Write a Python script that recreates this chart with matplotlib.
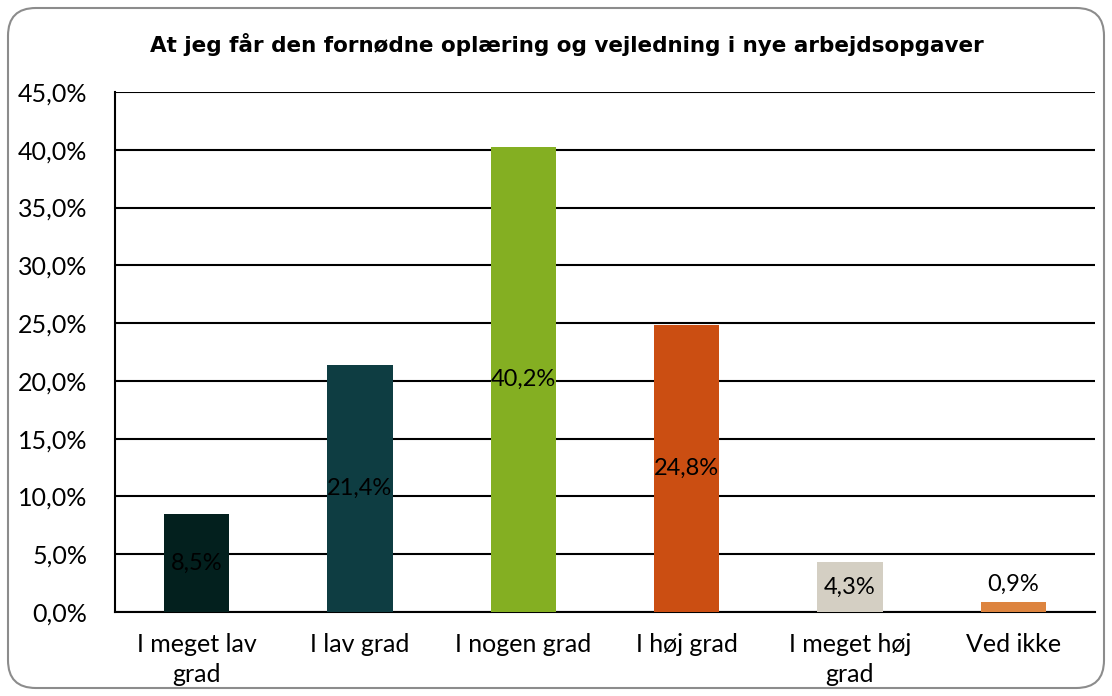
import matplotlib
matplotlib.use("Agg")
import matplotlib.pyplot as plt
from matplotlib.patches import FancyBboxPatch
from matplotlib.ticker import FuncFormatter, MultipleLocator

categories = ["I meget lav\ngrad", "I lav grad", "I nogen grad", "I høj grad", "I meget høj\ngrad", "Ved ikke"]
values = [8.5, 21.4, 40.2, 24.8, 4.3, 0.9]
colors = ["#03201E", "#0E3D42", "#84AF22", "#CB4E12", "#D4CFC3", "#DD843F"]
title = "At jeg får den fornødne oplæring og vejledning i nye arbejdsopgaver"

plt.rcParams['font.family'] = ['Lato', 'DejaVu Sans']

fig = plt.figure(figsize=(11.12, 6.96), dpi=100)
ax = fig.add_axes([115/1112, 1-612/696, (1095-115)/1112, (612-92)/696])

frame = FancyBboxPatch((8/1112, 8/696), (1104-8)/1112, (688-8)/696,
                       boxstyle="round,pad=0,rounding_size=0.025",
                       transform=fig.transFigure, facecolor="white",
                       edgecolor="#8c8c8c", linewidth=1.5, zorder=-10,
                       mutation_aspect=1112/696)
fig.patches.append(frame)

x = range(len(categories))
bars = ax.bar(x, values, width=0.4, color=colors, zorder=3)

ax.set_ylim(0, 45)
ax.set_xlim(-0.5, len(categories) - 0.5)
ax.yaxis.set_major_locator(MultipleLocator(5))
ax.yaxis.set_major_formatter(FuncFormatter(lambda v, p: f"{v:.1f}%".replace(".", ",")))
ax.grid(axis='y', color='black', linewidth=1.5, zorder=0)
ax.set_axisbelow(True)
for s in ['top', 'right']:
    ax.spines[s].set_visible(False)
ax.spines['left'].set_linewidth(1.5)
ax.spines['bottom'].set_linewidth(1.5)
ax.tick_params(axis='both', length=0, labelsize=18)
ax.tick_params(axis='y', pad=20)
ax.tick_params(axis='x', pad=15)
ax.set_xticks(list(x))
ax.set_xticklabels(categories, linespacing=1.4)
ax.patch.set_alpha(0)

for xi, v in zip(x, values):
    label = f"{v:.1f}%".replace(".", ",")
    if v < 2:
        ax.text(xi, v + 0.6, label, ha='center', va='bottom', fontsize=17, zorder=4)
    else:
        ax.text(xi, v / 2, label, ha='center', va='center', fontsize=17, zorder=4)

fig.text(567/1112, 1-45/696, title, ha='center', va='center', fontsize=15.5,
         fontweight='bold', family=['DejaVu Sans'])

fig.savefig("out.png", dpi=100)
